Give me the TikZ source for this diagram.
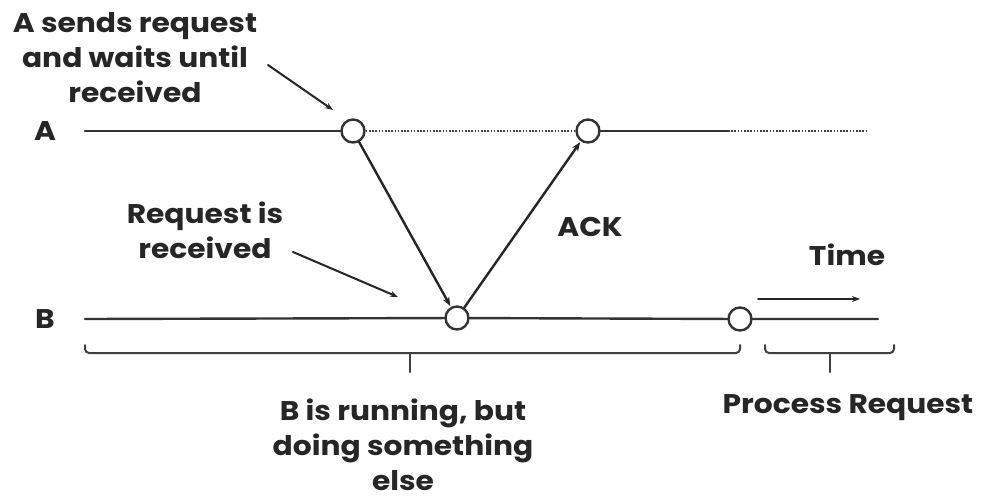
\documentclass[tikz,border=0pt]{standalone}
\usepackage{fontspec}
\setmainfont{Poppins}[FakeStretch=1.1]
\usetikzlibrary{arrows.meta}
\begin{document}
\begin{tikzpicture}[x=1pt, y=-1pt, line cap=round, line join=round,
  evt/.style={circle, draw=black!80, fill=white, line width=2.4pt, minimum size=23pt, inner sep=0pt},
  lbl/.style={font=\fontsize{27}{35}\selectfont\bfseries, text=black!85, align=center},
  tline/.style={draw=black!80, line width=2.4pt},
  idle/.style={draw=black!75, line width=2.2pt, line cap=butt, dash pattern=on 1.6pt off 1.6pt},
  msg/.style={draw=black!85, line width=2.4pt, -{Stealth[length=9pt, width=7pt]}},
  note/.style={draw=black!85, line width=2pt, -{Stealth[length=8pt, width=6pt]}},
  brace/.style={draw=black!75, line width=2pt, rounded corners=4pt}]
\useasboundingbox (0,0) rectangle (981,499);
% process timelines
\node[lbl] (alab) at (45,131) {A};
\node[lbl] (blab) at (45,319) {B};
\coordinate (a0) at (85,131);
\node[evt] (a1) at (353,131) {};
\node[evt] (a2) at (588,131) {};
\coordinate (a3) at (728,131);
\coordinate (a4) at (868,131);
\coordinate (b0) at (85,319);
\node[evt] (b1) at (457,318) {};
\node[evt] (b2) at (740,319) {};
\coordinate (b3) at (878,319);
\draw[tline] (a0) -- (a1);
\draw[idle] (a1) -- (a2);
\draw[tline] (a2) -- (a3);
\draw[idle] (a3) -- (a4);
\draw[tline] (b0) -- (b1) -- (b2) -- (b3);
% request and acknowledge
\draw[msg, shorten >=1pt] (a1) -- (b1);
\draw[msg, shorten >=1pt] (b1) -- (a2);
\node[lbl] (ack) at (590,227) {ACK};
% annotations
\node[lbl] (sendtxt) at (135,58) {A sends request\\and waits until\\received};
\coordinate (sendtip) at (333,110);
\draw[note] (268,65) -- (sendtip);
\node[lbl] (recvtxt) at (205,230) {Request is\\received};
\coordinate (recvtip) at (398,297);
\draw[note] (293,252) -- (recvtip);
\node[lbl] (time) at (847,255) {Time};
\coordinate (t0) at (758,299);
\coordinate (t1) at (860,299);
\draw[note] (t0) -- (t1);
% braces under B
\draw[brace] (85,345) -- (85,353) -- (740,353) -- (740,345);
\draw[brace] (410,353) -- (410,372);
\draw[brace] (765,345) -- (765,353) -- (894,353) -- (894,345);
\draw[brace] (830,353) -- (830,372);
\node[lbl] (busytxt) at (403,445) {B is running, but\\doing something\\else};
\node[lbl] (proctxt) at (848,408) {Process Request};
\end{tikzpicture}
\end{document}
